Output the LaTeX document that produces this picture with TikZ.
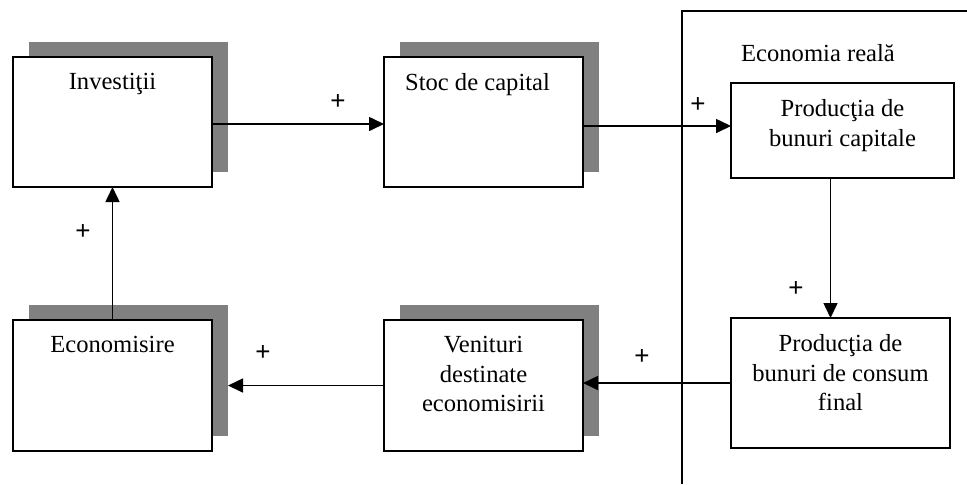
\documentclass[tikz,border=0pt]{standalone}
\usepackage{fontspec}
\setmainfont{Liberation Serif}
\newfontfamily\plusfont{Liberation Sans}
\usetikzlibrary{arrows.meta, positioning}

\tikzset{
  box/.style={draw=black, fill=white, line width=1pt, inner sep=0pt, outer sep=0pt},
  shade/.style={fill=black!50, draw=none, inner sep=0pt, outer sep=0pt,
    minimum width=99.5pt, minimum height=65pt},
  boxtext/.style={anchor=north, inner sep=0pt, align=center,
    font=\fontsize{12.3}{14.8}\selectfont},
  sign/.style={inner sep=0pt, font=\plusfont\fontsize{13}{15}\selectfont},
  link/.style={line width=0.8pt, -{Triangle[length=7.5pt,width=7pt]}}
}

\begin{document}
\begin{tikzpicture}[x=0.5pt,y=-0.5pt]
\useasboundingbox (0,0) rectangle (967,484);
% economia reala frame
\draw[line width=1pt] (682,484) -- (682,11) -- (967,11);
\node[boxtext, anchor=center] (real) at (818,53) {Economia reală};
% shadows
\node[shade] (invsh) at (128.5,107) {};
\node[shade] (stocsh) at (499.5,107) {};
\node[shade, minimum height=65.5pt] (ecosh) at (128.5,370.5) {};
\node[shade, minimum height=65.5pt] (vensh) at (499.5,370.5) {};
% boxes
\node[box, minimum width=99.5pt, minimum height=65pt] (inv) at (112.5,122) {};
\node[box, minimum width=99.5pt, minimum height=65pt] (stoc) at (483.5,122) {};
\node[box, minimum width=99.5pt, minimum height=65.5pt] (eco) at (112.5,385.5) {};
\node[box, minimum width=99.5pt, minimum height=65.5pt] (ven) at (483.5,385.5) {};
\node[box, minimum width=111.5pt, minimum height=47.5pt] (cap) at (842.5,130.5) {};
\node[box, minimum width=109.5pt, minimum height=65pt] (cons) at (840.5,383) {};
% texts
\node[boxtext, below=8pt of inv.north] (invt) {Investiţii};
\node[boxtext, below=8pt of stoc.north, xshift=-3pt] (stoct) {Stoc de capital};
\node[boxtext, below=8pt of eco.north] (ecot) {Economisire};
\node[boxtext, below=8pt of ven.north] (vent) {Venituri\\destinate\\economisirii};
\node[boxtext, below=8pt of cap.north] (capt) {Producţia de\\bunuri capitale};
\node[boxtext, below=8pt of cons.north] (const) {Producţia de\\bunuri de consum\\final};
% connectors
\draw[link] ([yshift=-1pt]inv.east) -- ([yshift=-1pt]stoc.west);
\draw[link] ([yshift=-2pt]stoc.east) -- ([yshift=-2pt]stoc.east -| cap.west);
\draw[link] ([xshift=-6pt]cap.south) -- ([xshift=-6pt]cap.south |- cons.north);
\draw[link] (cons.west) -- (cons.west -| ven.east);
\draw[link] (ven.west) -- (ven.west -| ecosh.east);
\draw[link] (eco.north) -- (inv.south);
% signs
\node[sign] (p1) at (338,102) {+};
\node[sign] (p2) at (698,105) {+};
\node[sign] (p3) at (796,289) {+};
\node[sign] (p4) at (642,357) {+};
\node[sign] (p5) at (263,353) {+};
\node[sign] (p6) at (83,232) {+};
\end{tikzpicture}
\end{document}
